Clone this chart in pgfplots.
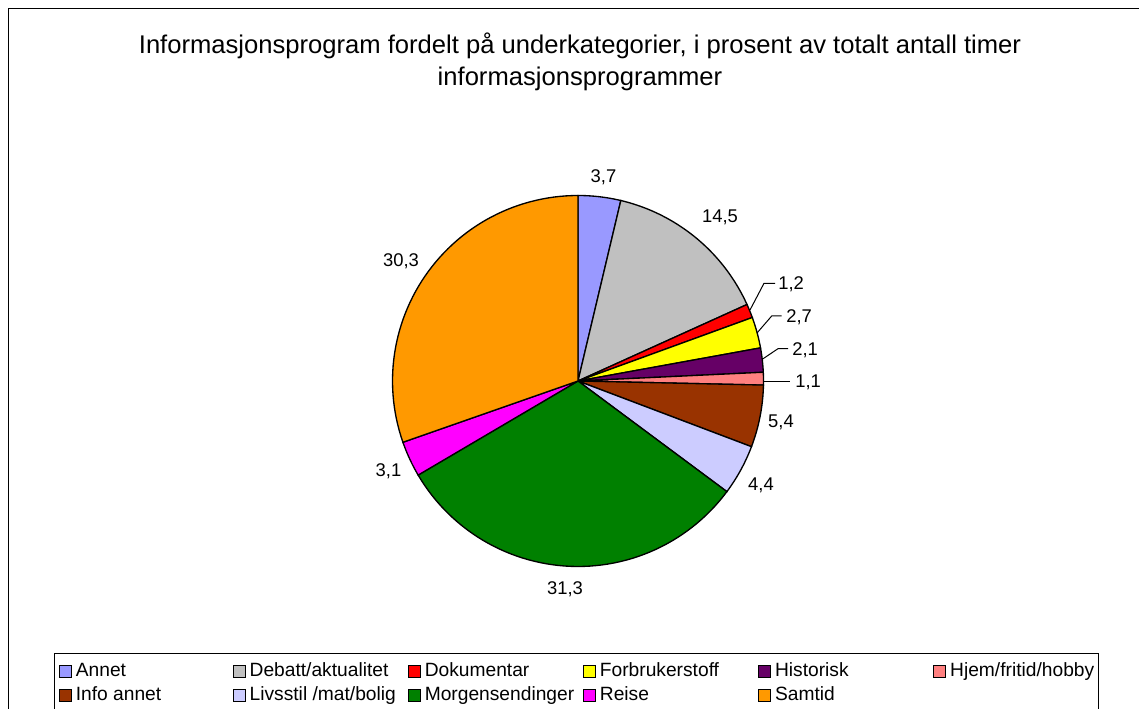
\documentclass[border=0pt]{standalone}
\usepackage{fontspec}
\setmainfont{Liberation Sans}
\usepackage{pgfplots}
\usepackage{pgfplotstable}
\pgfplotsset{compat=1.18}
\definecolor{cA}{HTML}{9999FF}
\definecolor{cB}{HTML}{C0C0C0}
\definecolor{cC}{HTML}{FF0000}
\definecolor{cD}{HTML}{FFFF00}
\definecolor{cE}{HTML}{660066}
\definecolor{cF}{HTML}{FF8080}
\definecolor{cG}{HTML}{993300}
\definecolor{cH}{HTML}{CCCCFF}
\definecolor{cI}{HTML}{008000}
\definecolor{cJ}{HTML}{FF00FF}
\definecolor{cK}{HTML}{FF9900}
\newcommand\labfont{\fontsize{13.8}{16}\selectfont}
\pgfplotstableread[col sep=semicolon]{
name;value;clr;lab;lx;ly;anc;lw
Annet;3.7;cA;3,7;603.5;176;center;115.75
Debatt/aktualitet;14.5;cB;14,5;720;216;center;116.75
Dokumentar;1.2;cC;1,2;778;283.3;west;116.75
Forbrukerstoff;2.7;cD;2,7;786;316;west;116.75
Historisk;2.1;cE;2,1;792;348.7;west;116.75
Hjem/fritid/hobby;1.1;cF;1,1;795;381;west;106
Info annet;5.4;cG;5,4;781;421;center;115.75
Livsstil /mat/bolig;4.4;cH;4,4;761;484;center;116.75
Morgensendinger;31.3;cI;31,3;565;588;center;116.75
Reise;3.1;cJ;3,1;388.5;470;center;116.75
Samtid;30.3;cK;30,3;401;260;center;116.75
}\piedata
\begin{document}
\begin{tikzpicture}
\begin{axis}[
  scale only axis, width=854.25pt, height=531.75pt,
  xmin=0, xmax=1139, ymin=0, ymax=709,
  hide axis, clip=false,
  legend columns=6,
  legend style={at={(axis description cs:0.04741,0.07898)}, anchor=north west,
    draw=black, line width=0.6pt, inner xsep=3.5pt, inner ysep=5pt,
    font=\fontsize{14.4}{16}\selectfont, column sep=0pt, row sep=0pt,
    nodes={inner sep=2pt, text height=10.5pt, text depth=3pt}},
  legend image code/.code={\draw[#1, line width=0.6pt] (0pt,-4.5pt) rectangle (9pt,4.5pt);},
]
\coordinate (BL) at (axis cs:0,0);
\coordinate (TR) at (axis cs:1139,709);
% total
\def\tot{0}
\pgfplotsforeachungrouped \i in {0,...,10}{%
  \pgfplotstablegetelem{\i}{value}\of\piedata \let\v\pgfplotsretval
  \pgfmathsetmacro\tot{\tot+\v}%
}
\def\cum{0}
\pgfplotsforeachungrouped \i in {0,...,10}{%
  \pgfplotstablegetelem{\i}{value}\of\piedata \let\v\pgfplotsretval
  \pgfplotstablegetelem{\i}{clr}\of\piedata \let\clr\pgfplotsretval
  \pgfplotstablegetelem{\i}{name}\of\piedata \let\nm\pgfplotsretval
  \pgfplotstablegetelem{\i}{lab}\of\piedata \let\lab\pgfplotsretval
  \pgfplotstablegetelem{\i}{lx}\of\piedata \let\lx\pgfplotsretval
  \pgfplotstablegetelem{\i}{ly}\of\piedata \let\lyraw\pgfplotsretval
  \pgfplotstablegetelem{\i}{anc}\of\piedata \let\anc\pgfplotsretval
  \pgfplotstablegetelem{\i}{lw}\of\piedata \let\lw\pgfplotsretval
  \pgfmathsetmacro\ly{709-\lyraw}%
  \pgfmathsetmacro\aS{90-(\cum+\v)/\tot*360}%
  \pgfmathsetmacro\aE{90-\cum/\tot*360}%
  \edef\temp{\noexpand\addplot[fill=\clr, draw=black, line width=1pt, domain=\aS:\aE, samples=60, variable=\noexpand\t]
    ({578+185.5*cos(\noexpand\t)},{328+185.5*sin(\noexpand\t)}) -- (axis cs:578,328) -- cycle;
    \noexpand\addlegendentry{\noexpand\hspace{1pt}\noexpand\makebox[\lw pt][l]{\nm}}
    \noexpand\node[anchor=\anc, inner sep=0pt, text depth=0pt, font=\noexpand\labfont] at (axis cs:\lx,\ly) {\lab};}%
  \temp
  \pgfmathsetmacro\cum{\cum+\v}%
}
% leader lines
\draw[line width=0.75pt] (axis cs:750,399) -- (axis cs:764,425.7) -- (axis cs:775,425.7);
\draw[line width=0.75pt] (axis cs:757,376) -- (axis cs:771.7,393) -- (axis cs:781.7,393);
\draw[line width=0.75pt] (axis cs:762.7,350) -- (axis cs:778,360.3) -- (axis cs:788,360.3);
\draw[line width=0.75pt] (axis cs:764,327.3) -- (axis cs:790,327.3);
% title
\node[align=center, font=\fontsize{19.2}{24.3}\selectfont] at (axis cs:580,647)
  {Informasjonsprogram fordelt på underkategorier, i prosent av totalt antall timer\\informasjonsprogrammer};
% outer frame
\draw[line width=0.75pt] (axis cs:8.3,700.7) rectangle (axis cs:1160,-20);
\end{axis}
\pgfresetboundingbox
\path[use as bounding box] (BL) rectangle (TR);
\end{tikzpicture}
\end{document}
